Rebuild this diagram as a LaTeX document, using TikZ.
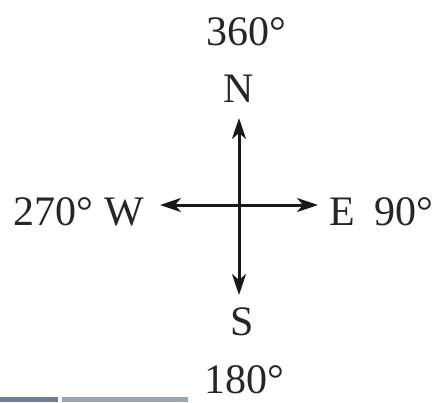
\documentclass[tikz,border=0pt]{standalone}
\usepackage{fontspec}
\setmainfont{Liberation Serif}
\usetikzlibrary{arrows.meta}
\definecolor{bardark}{HTML}{6A8197}
\definecolor{barlight}{HTML}{97A7B8}
\tikzset{
  lbl/.style={inner sep=0pt, anchor=base, font=\fontsize{42}{46}\selectfont, text=black!85},
  tip/.tip={Stealth[length=21pt,width=14pt,inset=6pt]},
  axis/.style={line width=3pt, black!90, tip-tip}
}
\begin{document}
\begin{tikzpicture}[x=1pt,y=-1pt]
\useasboundingbox (0,0) rectangle (436,402);
\fill[white] (0,0) rectangle (436,402);
\node[lbl] (t360) at (246,45) {360°};
\node[lbl] (tN) at (239,102) {N};
\node[lbl, anchor=base east] (tW) at (144,225) {270° W};
\node[lbl, anchor=base west] (tE) at (329,225) {E\hspace{9pt} 90°};
\node[lbl] (tS) at (242,335) {S};
\node[lbl] (t180) at (244,393) {180°};
\coordinate (top) at (239,118);
\coordinate (bot) at (239,295);
\coordinate (lft) at (160,205);
\coordinate (rgt) at (318,205);
\draw[axis] (top) -- (bot);
\draw[axis] (lft) -- (rgt);
\fill[bardark] (0,397) rectangle (58,402);
\fill[barlight] (62,397) rectangle (188,402);
\end{tikzpicture}
\end{document}
